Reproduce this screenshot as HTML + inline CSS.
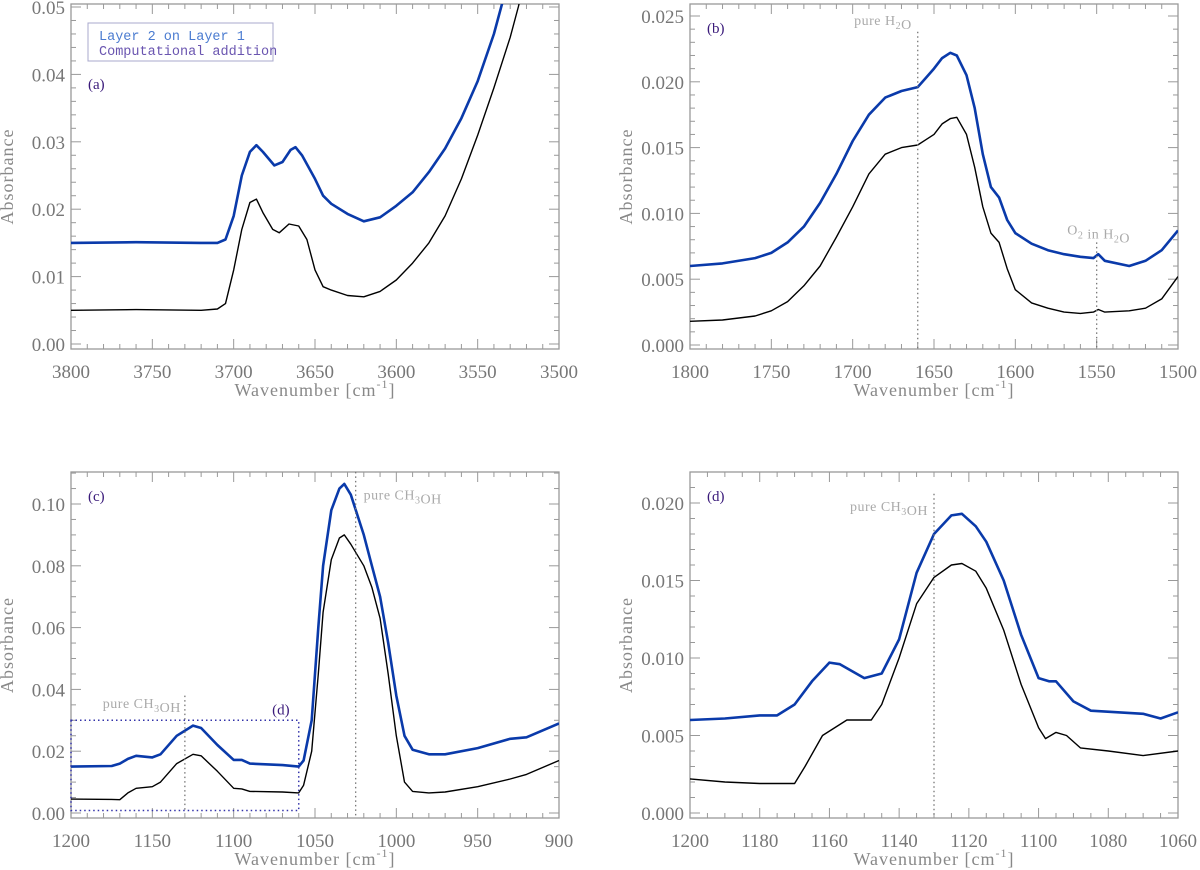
<!DOCTYPE html>
<html><head><meta charset="utf-8"><style>
html,body{margin:0;padding:0;background:#fff;}
svg{display:block;font-family:"Liberation Serif","DejaVu Serif",serif;}
</style></head><body>
<svg id="fig" width="1200" height="870" viewBox="0 0 1200 870" xmlns="http://www.w3.org/2000/svg"></svg>
<script>
// ---- data ----
const aX=[3800,3760,3720,3710,3705,3700,3695,3690,3686,3682,3675,3670,3665,3662,3658,3650,3645,3640,3630,3620,3610,3600,3590,3580,3570,3560,3550,3540,3535,3530];
const aBlue=[0.015,0.0151,0.015,0.015,0.0155,0.019,0.025,0.0285,0.0295,0.0285,0.0265,0.027,0.0288,0.0292,0.028,0.0245,0.022,0.0208,0.0193,0.0182,0.0188,0.0205,0.0225,0.0255,0.029,0.0335,0.039,0.046,0.0505,0.056];
const aBX=[3800,3760,3720,3710,3705,3700,3695,3690,3686,3682,3676,3672,3666,3660,3655,3650,3645,3640,3630,3620,3610,3600,3590,3580,3570,3560,3550,3540,3530,3525,3520];
const aBlack=[0.005,0.0051,0.005,0.0052,0.006,0.011,0.017,0.021,0.0215,0.0195,0.017,0.0165,0.0178,0.0175,0.0155,0.011,0.0085,0.008,0.0072,0.007,0.0078,0.0095,0.012,0.015,0.019,0.0245,0.031,0.038,0.0455,0.05,0.055];
const bX=[1800,1780,1760,1750,1740,1730,1720,1710,1700,1690,1680,1670,1660,1655,1650,1645,1640,1636,1630,1625,1620,1615,1610,1605,1600,1590,1580,1570,1560,1552,1549,1545,1530,1520,1510,1500];
const bBlue=[0.006,0.0062,0.0066,0.007,0.0078,0.009,0.0108,0.013,0.0155,0.0175,0.0188,0.0193,0.0196,0.0203,0.021,0.0218,0.0222,0.022,0.0205,0.018,0.0145,0.012,0.0112,0.0095,0.0085,0.0077,0.0072,0.0069,0.0067,0.0066,0.0069,0.0064,0.006,0.0064,0.0072,0.0087];
const bBlack=[0.0018,0.0019,0.0022,0.0026,0.0033,0.0045,0.006,0.0082,0.0105,0.013,0.0145,0.015,0.0152,0.0156,0.016,0.0168,0.0172,0.0173,0.016,0.0135,0.0105,0.0085,0.0078,0.0058,0.0042,0.0032,0.0028,0.0025,0.0024,0.0025,0.0027,0.0025,0.0026,0.0028,0.0035,0.0052];
const cX=[1200,1175,1170,1165,1160,1150,1145,1135,1125,1120,1110,1100,1095,1090,1070,1060,1057,1052,1048,1045,1040,1035,1032,1028,1020,1015,1010,1005,1000,995,990,980,970,950,930,920,900];
const cBlue=[0.015,0.0152,0.016,0.0175,0.0185,0.018,0.019,0.025,0.0283,0.0275,0.022,0.0172,0.0172,0.016,0.0155,0.015,0.017,0.03,0.06,0.08,0.098,0.105,0.1065,0.103,0.09,0.08,0.07,0.055,0.038,0.025,0.0205,0.019,0.019,0.021,0.024,0.0245,0.029];
const cBlack=[0.0045,0.0044,0.0043,0.0065,0.008,0.0085,0.01,0.016,0.019,0.0185,0.0135,0.008,0.0078,0.007,0.0068,0.0065,0.009,0.02,0.045,0.065,0.082,0.089,0.09,0.087,0.08,0.073,0.063,0.045,0.025,0.01,0.007,0.0065,0.0068,0.0085,0.011,0.0125,0.017];
const dX=[1200,1190,1180,1175,1170,1165,1160,1157,1150,1145,1140,1135,1130,1125,1122,1118,1115,1110,1105,1100,1097,1095,1090,1085,1070,1065,1060];
const dBlue=[0.006,0.0061,0.0063,0.0063,0.007,0.0085,0.0097,0.0096,0.0087,0.009,0.0112,0.0155,0.018,0.0192,0.0193,0.0185,0.0175,0.015,0.0115,0.0087,0.0085,0.0085,0.0072,0.0066,0.0064,0.0061,0.0065];
const dBX=[1200,1190,1180,1170,1167,1162,1155,1148,1145,1140,1135,1130,1125,1122,1118,1115,1110,1105,1100,1098,1095,1092,1088,1080,1070,1060];
const dBlack=[0.0022,0.002,0.0019,0.0019,0.003,0.005,0.006,0.006,0.007,0.01,0.0135,0.0152,0.016,0.0161,0.0156,0.0145,0.0118,0.0083,0.0055,0.0048,0.0052,0.005,0.0042,0.004,0.0037,0.004];
const aTicks=[3800,3750,3700,3650,3600,3550,3500];
const aYTicks=["0.00","0.01","0.02","0.03","0.04","0.05"];
const bTicks=[1800,1750,1700,1650,1600,1550,1500];
const bYTicks=["0.000","0.005","0.010","0.015","0.020","0.025"];
const cTicks=[1200,1150,1100,1050,1000,950,900];
const cYTicks=["0.00","0.02","0.04","0.06","0.08","0.10"];
const dTicks=[1200,1180,1160,1140,1120,1100,1080,1060];
const dYTicks=["0.000","0.005","0.010","0.015","0.020"];

const NS="http://www.w3.org/2000/svg";
const svg=document.getElementById('fig');
function mk(tag,attrs,parent,text){const e=document.createElementNS(NS,tag);for(const k in attrs)e.setAttribute(k,attrs[k]);if(text!==undefined)e.textContent=text;(parent||svg).appendChild(e);return e;}

function panel(p){
  const g=mk('g',{});
  
  
  const X=v=>p.L+(p.x0-v)/(p.x0-p.x1)*(p.R-p.L);
  const Y=v=>p.y0px-(v)*p.sy;
  p.X=X;p.Y=Y;
  const clipId='clip'+p.id;
  const cp=mk('clipPath',{id:clipId},g);mk('rect',{x:p.L,y:p.T,width:p.R-p.L,height:p.B-p.T},cp);
  // frame
  const fr=mk('rect',{x:p.L,y:p.T,width:p.R-p.L,height:p.B-p.T,fill:'none',stroke:'#999','stroke-width':1.3},g);
  
  
  // x ticks
  for(let v=p.x0;v>=p.x1-1e-9;v-=p.xminor){
    const major=Math.abs(((p.x0-v)/p.xmajor)-Math.round((p.x0-v)/p.xmajor))<1e-6;
    const len=major?10:5,x=X(v);
    mk('line',{x1:x,y1:p.B,x2:x,y2:p.B-len,stroke:'#999','stroke-width':1},g);
    mk('line',{x1:x,y1:p.T,x2:x,y2:p.T+len,stroke:'#999','stroke-width':1},g);
  }
  p.xt.forEach(v=>{const t=mk('text',{x:X(v),y:p.B+29,'text-anchor':'middle','font-size':19,fill:'#777'},g,String(v));
    
    });
  // y ticks
  const ymaxv=(p.y0px-p.T)/p.sy;
  for(let i=0;;i++){const v=i*p.yminor;if(v>ymaxv)break;
    const major=(i%p.yper)===0,len=major?10:5,y=Y(v);
    mk('line',{x1:p.L,y1:y,x2:p.L+len,y2:y,stroke:'#999','stroke-width':1},g);
    mk('line',{x1:p.R,y1:y,x2:p.R-len,y2:y,stroke:'#999','stroke-width':1},g);}
  p.yt.forEach(s=>{const t=mk('text',{x:p.L-6,y:Y(parseFloat(s))+7,'text-anchor':'end','font-size':19,fill:'#777'},g,s);
    
    });
  const yt=mk('text',{x:0,y:0,'text-anchor':'middle','font-size':18,fill:'#888','letter-spacing':1,transform:`translate(${p.L-58},${(p.T+p.B)/2}) rotate(-90)`},g,'Absorbance');
  
  
  const xt=mk('text',{x:(p.L+p.R)/2,y:p.B+47,'text-anchor':'middle','font-size':18,fill:'#888','letter-spacing':1},g);
  
  
  xt.appendChild(document.createTextNode('Wavenumber [cm'));
  mk('tspan',{'font-size':12,dy:-8},xt,'-1');
  mk('tspan',{dy:8},xt,']');
  const pl=mk('text',{x:p.L+17,y:p.T+(p.id==='a'?85:29),'font-size':15,fill:'#3a1a7a'},g,'('+p.id+')');
  
  
  const cg=mk('g',{'clip-path':`url(#${clipId})`},g);
  p.series.forEach(s=>{
    const pts=s.x.map((v,i)=>X(v).toFixed(1)+','+Y(s.y[i]).toFixed(1)).join(' ');
    const l=mk('polyline',{points:pts,fill:'none',stroke:s.c,'stroke-width':s.w,'stroke-linejoin':'round'},cg);
    
    
  });
  p.g=g;return p;
}

function vline(p,xv,ytop,ybot){const l=mk('line',{x1:p.X(xv),x2:p.X(xv),y1:p.Y(ytop),y2:p.Y(ybot),stroke:'#777','stroke-width':1.3,'stroke-dasharray':'1.5,3'},p.g);
  
  }
function note(p,x,y,anchor,parts){const t=mk('text',{x:x,y:y,'text-anchor':anchor,'font-size':14,fill:'#aaa','letter-spacing':0.5},p.g);
  
  
  parts.forEach(q=>{if(typeof q==='string')t.appendChild(document.createTextNode(q));else{mk('tspan',{'font-size':10,dy:4},t,q.s);mk('tspan',{dy:-4},t,'');}});}

const BL='#0a3aaa',BK='#000';
const pa=panel({id:'a',L:71,R:559,T:4,B:349,x0:3800,x1:3500,xmajor:50,xminor:10,y0px:344,sy:6740,yminor:0.002,yper:5,xt:aTicks,yt:aYTicks,
  series:[{x:aBX,y:aBlack,c:BK,w:1.4,name:'computational-addition-line'},{x:aX,y:aBlue,c:BL,w:2.6,name:'layer2-on-layer1-line'}]});
const pb=panel({id:'b',L:690,R:1178,T:4,B:349,x0:1800,x1:1500,xmajor:50,xminor:10,y0px:345,sy:13160,yminor:0.001,yper:5,xt:bTicks,yt:bYTicks,
  series:[{x:bX,y:bBlack,c:BK,w:1.4,name:'computational-addition-line'},{x:bX,y:bBlue,c:BL,w:2.6,name:'layer2-on-layer1-line'}]});
const pc=panel({id:'c',L:71,R:559,T:472,B:818,x0:1200,x1:900,xmajor:50,xminor:10,y0px:813,sy:3090,yminor:0.005,yper:4,xt:cTicks,yt:cYTicks,
  series:[{x:cX,y:cBlack,c:BK,w:1.4,name:'computational-addition-line'},{x:cX,y:cBlue,c:BL,w:2.6,name:'layer2-on-layer1-line'}]});
const pd=panel({id:'d',L:690,R:1178,T:472,B:818,x0:1200,x1:1060,xmajor:20,xminor:5,y0px:813,sy:15500,yminor:0.001,yper:5,xt:dTicks,yt:dYTicks,
  series:[{x:dBX,y:dBlack,c:BK,w:1.4,name:'computational-addition-line'},{x:dX,y:dBlue,c:BL,w:2.6,name:'layer2-on-layer1-line'}]});

// annotations
vline(pb,1660,0.0238,-0.0003); note(pb,pb.X(1660)-6,pb.Y(0.0243),'end',['pure H',{s:'2'},'O']);
vline(pb,1550,0.0078,-0.0003); note(pb,pb.X(1550)+2,pb.Y(0.0084),'middle',['O',{s:'2'},' in H',{s:'2'},'O']);
vline(pc,1025,0.1104,-0.0016); note(pc,pc.X(1025)+8,pc.Y(0.1015),'start',['pure CH',{s:'3'},'OH']);
vline(pc,1130,0.038,0.001); note(pc,pc.X(1130)-4,pc.Y(0.034),'end',['pure CH',{s:'3'},'OH']);
vline(pd,1130,0.0206,-0.0003); note(pd,pd.X(1130)-6,pd.Y(0.0195),'end',['pure CH',{s:'3'},'OH']);
const zr=mk('rect',{x:pc.X(1200),y:pc.Y(0.030),width:pc.X(1060)-pc.X(1200),height:pc.Y(0.0008)-pc.Y(0.030),fill:'none',stroke:'#3333aa','stroke-width':1.5,'stroke-dasharray':'1.5,3'},pc.g);


const zl=mk('text',{x:pc.X(1071),y:pc.Y(0.0318),'text-anchor':'middle','font-size':15,fill:'#3a1a7a'},pc.g,'(d)');



// legend
const lg=mk('g',{});


mk('rect',{x:88,y:23,width:185,height:38,fill:'#fff',stroke:'#a8a8cc','stroke-width':1},lg);
const l1=mk('text',{x:99,y:40,'font-size':13.5,fill:'#4a7bd0','font-family':'Liberation Mono, monospace'},lg,'Layer 2 on Layer 1');


const l2=mk('text',{x:99,y:55,'font-size':13.5,fill:'#6a55b0','font-family':'Liberation Mono, monospace'},lg,'Computational addition');


</script>
</body></html>
